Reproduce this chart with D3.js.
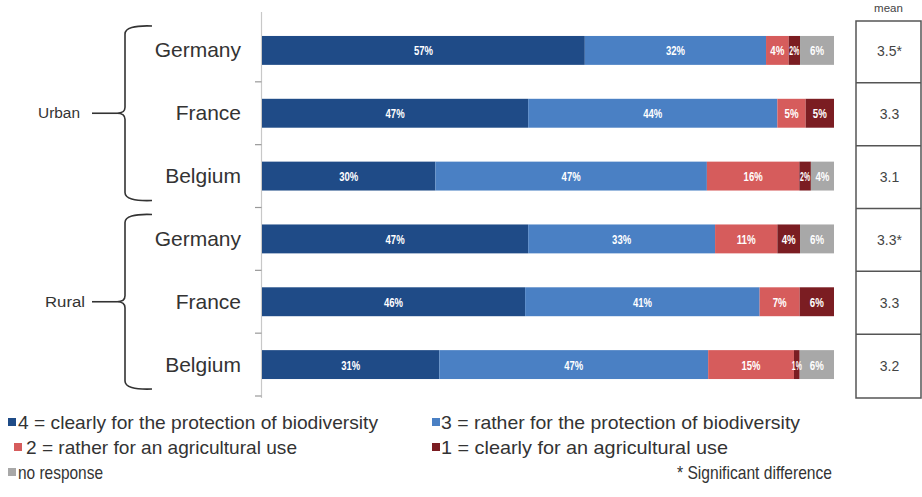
<!DOCTYPE html>
<html>
<head>
<meta charset="utf-8">
<script src="https://cdn.jsdelivr.net/npm/d3@7"></script>
<style>
  html, body { margin: 0; padding: 0; background: #fff; }
  svg { display: block; }
</style>
</head>
<body>
<svg id="chart" width="922" height="497"></svg>
<script>
// ---- data ----
const groups = ["Urban", "Rural"];
const countries = ["Germany", "France", "Belgium", "Germany", "France", "Belgium"];
const clearlyProtection = [57, 47, 30, 47, 46, 31];
const ratherProtection  = [32, 44, 47, 33, 41, 47];
const ratherAgricultural = [4, 5, 16, 11, 7, 15];
const clearlyAgricultural = [2, 5, 2, 4, 6, 1];
const noResponse = [6, 0, 4, 6, 0, 6];
const means = ["3.5*", "3.3", "3.1", "3.3*", "3.3", "3.2"];
const seriesNames = [
  "4 = clearly for the protection of biodiversity",
  "3 = rather for the protection of biodiversity",
  "2 = rather for an agricultural use",
  "1 = clearly for an agricultural use",
  "no response"
];
const noteText = "* Significant difference";
const seriesValues = [clearlyProtection, ratherProtection, ratherAgricultural, clearlyAgricultural, noResponse];
const colors = ["#1f4b87", "#4a80c4", "#d65c5c", "#7b1d22", "#a8a8a8"];

const svg = d3.select("#chart");
const sans = "'Liberation Sans', Arial, sans-serif";

const rowsIdx = d3.range(countries.length);
const y = d3.scaleBand().domain(rowsIdx).range([19, 396]).padding(0);
const x = d3.scaleLinear().domain([0, 1]).range([262, 834]);
const barH = y.bandwidth() * 0.46;

// axis line + ticks
svg.append("line").attr("x1", 261.5).attr("x2", 261.5).attr("y1", 12).attr("y2", 398)
  .attr("stroke", "#c8c8c8").attr("stroke-width", 1.2);
const bounds = rowsIdx.map(i => y(i)).concat([y(rowsIdx.length - 1) + y.bandwidth()]);
svg.selectAll("line.tick").data(bounds.slice(1)).enter().append("line")
  .attr("x1", 255).attr("x2", 261.5).attr("y1", d => d).attr("y2", d => d)
  .attr("stroke", "#999").attr("stroke-width", 1.2);

// stacked bars
rowsIdx.forEach(i => {
  const vals = seriesValues.map(s => s[i]);
  const total = d3.sum(vals);
  const cy = y(i) + y.bandwidth() / 2;
  let cum = 0;
  const labels = [];
  vals.forEach((v, k) => {
    const x0 = x(cum / total);
    cum += v;
    const x1 = x(cum / total);
    if (v <= 0) return;
    svg.append("rect").attr("x", x0).attr("y", cy - barH / 2)
      .attr("width", x1 - x0).attr("height", barH).attr("fill", colors[k]);
    const w = Math.min(String(v).length === 1 ? 14 : 19, Math.max(x1 - x0 - 2, 10));
    labels.push({ v, c: (x0 + x1) / 2, w });
  });
  // resolve overlaps from right to left
  for (let j = labels.length - 2; j >= 0; j--) {
    const right = labels[j].c + labels[j].w / 2;
    const nextLeft = labels[j + 1].c - labels[j + 1].w / 2 - 3;
    if (right > nextLeft) labels[j].c -= (right - nextLeft);
  }
  labels.forEach(l => {
    svg.append("text").attr("x", l.c).attr("y", cy + 5)
      .attr("text-anchor", "middle").attr("fill", "#fff")
      .attr("font-family", sans).attr("font-weight", "bold").attr("font-size", 13.5)
      .attr("textLength", l.w).attr("lengthAdjust", "spacingAndGlyphs")
      .text(l.v + "%");
  });
  // country label
  svg.append("text").attr("x", 241).attr("y", cy + 7)
    .attr("text-anchor", "end").attr("fill", "#333")
    .attr("font-family", sans).attr("font-size", 21)
    .text(countries[i]);
});

// group brackets
const groupLabelX = [38, 45];
const groupLabelW = [42, 40];
groups.forEach((g, gi) => {
  const top = y(gi * 3) + 7;
  const bot = y(gi * 3 + 2) + y.bandwidth() - 7;
  const mid = (top + bot) / 2;
  const bx = 125;
  const p = d3.path();
  p.moveTo(152, top);
  p.quadraticCurveTo(bx, top - 1, bx, top + 8);
  p.lineTo(bx, mid - 6);
  p.quadraticCurveTo(bx, mid, bx - 8, mid);
  p.quadraticCurveTo(bx, mid, bx, mid + 6);
  p.lineTo(bx, bot - 8);
  p.quadraticCurveTo(bx, bot + 1, 152, bot);
  svg.append("path").attr("d", p.toString()).attr("fill", "none")
    .attr("stroke", "#333").attr("stroke-width", 1.6);
  svg.append("line").attr("x1", 92).attr("x2", bx - 8).attr("y1", mid).attr("y2", mid)
    .attr("stroke", "#333").attr("stroke-width", 1.6);
  svg.append("text").attr("x", groupLabelX[gi]).attr("y", mid + 5)
    .attr("fill", "#333").attr("font-family", sans).attr("font-size", 14)
    .attr("textLength", groupLabelW[gi]).attr("lengthAdjust", "spacingAndGlyphs").text(g);
});

// mean table
const tx0 = 856, tx1 = 921;
svg.append("text").attr("x", (tx0 + tx1) / 2).attr("y", 12)
  .attr("text-anchor", "middle").attr("fill", "#444")
  .attr("font-family", sans).attr("font-size", 11.5).text("mean");
svg.append("rect").attr("x", tx0).attr("y", bounds[0] + 2).attr("width", tx1 - tx0)
  .attr("height", bounds[bounds.length - 1] - bounds[0]).attr("fill", "none")
  .attr("stroke", "#555").attr("stroke-width", 1.5);
bounds.slice(1, -1).forEach(b => {
  svg.append("line").attr("x1", tx0).attr("x2", tx1).attr("y1", b + 1).attr("y2", b + 1)
    .attr("stroke", "#555").attr("stroke-width", 1.5);
});
rowsIdx.forEach(i => {
  svg.append("text").attr("x", (tx0 + tx1) / 2 + 1).attr("y", y(i) + y.bandwidth() / 2 + 6)
    .attr("text-anchor", "middle").attr("fill", "#444")
    .attr("font-family", sans).attr("font-size", 14).text(means[i]);
});

// legend
const legendSquare = [[8, 428], [432, 428], [14, 453], [432, 453], [8, 478]];
const legendText = [[18, 360], [441, 359], [26, 271], [441, 287], [18, 85]];
seriesNames.forEach((name, k) => {
  const [lx, ly] = legendSquare[k];
  svg.append("rect").attr("x", lx).attr("y", ly - 10).attr("width", 8).attr("height", 8)
    .attr("fill", colors[k]);
  svg.append("text").attr("x", legendText[k][0]).attr("y", ly + 1)
    .attr("fill", "#333").attr("font-family", sans).attr("font-size", 18.5)
    .attr("textLength", legendText[k][1]).attr("lengthAdjust", "spacingAndGlyphs")
    .text(name);
});
svg.append("text").attr("x", 677).attr("y", 479)
  .attr("fill", "#333").attr("font-family", sans).attr("font-size", 18.5)
  .attr("textLength", 155).attr("lengthAdjust", "spacingAndGlyphs")
  .text(noteText);
</script>
</body>
</html>
